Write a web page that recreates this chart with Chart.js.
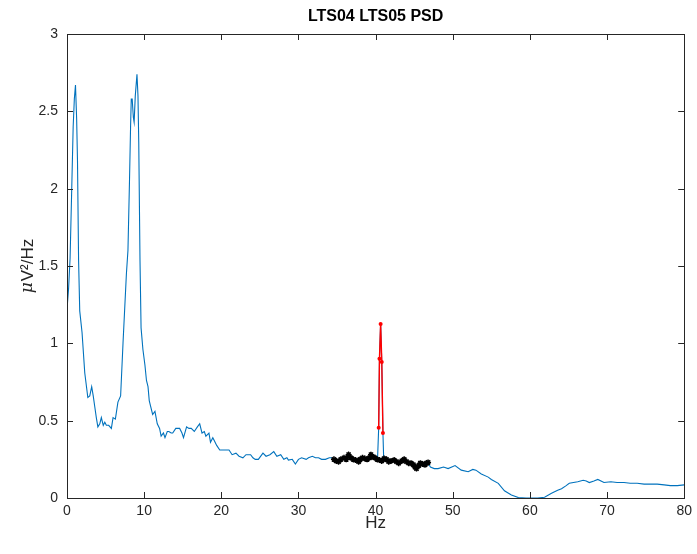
<!DOCTYPE html>
<html>
<head>
<meta charset="utf-8">
<title>LTS04 LTS05 PSD</title>
<script src="https://cdn.jsdelivr.net/npm/chart.js@4.4.1/dist/chart.umd.min.js"></script>
<style>
  html, body { margin: 0; padding: 0; background: #fff; }
  #wrap { width: 697px; height: 554px; }
</style>
</head>
<body>
<div id="wrap"><canvas id="psd" width="697" height="554"></canvas></div>
<script>
// PSD curve (blue)
var freqs = [0, 0.2, 0.4, 0.6, 0.8, 0.95, 1.1, 1.25, 1.36, 1.5, 1.65, 1.95, 2.3, 2.7, 2.95, 3.2, 3.4, 3.6, 3.8, 4.0,
  4.25, 4.45, 4.7, 4.9, 5.1, 5.4, 5.75, 5.97, 6.27, 6.6, 6.95, 7.26, 7.7, 7.9, 8.1, 8.24, 8.33, 8.45, 8.6, 8.7,
  8.85, 9.07, 9.2, 9.3, 9.46, 9.6, 9.84, 10.1, 10.3, 10.5, 10.66, 10.8, 11.1, 11.4, 11.7, 12.0, 12.2, 12.5, 12.7, 13.0,
  13.2, 13.5, 13.7, 14.1, 14.6, 14.9, 15.1, 15.5, 15.8, 16.1, 16.5, 16.9, 17.2, 17.5, 17.8, 18.0, 18.4, 18.6, 18.9, 19.1,
  19.4, 19.8, 20.3, 21.0, 21.4, 21.9, 22.3, 22.8, 23.2, 23.8, 24.1, 24.4, 24.8, 25.4, 25.8, 26.3, 26.8, 27.2, 27.7, 28.1,
  28.5, 28.7, 29.2, 29.6, 30.0, 30.4, 31.0, 31.3, 31.8, 32.2, 32.6, 33.0, 33.5, 34.0, 34.3, 34.6, 35.2, 35.9, 36.5, 37.1,
  37.8, 38.3, 38.9, 39.4, 39.9, 40.25, 40.4, 40.5, 40.65, 40.8, 40.95, 41.05, 41.4, 41.7, 42.4, 43.0, 43.7, 44.3, 44.9, 45.3,
  45.8, 46.4, 46.8, 47.1, 47.6, 48.1, 48.8, 49.4, 50.3, 51.1, 52.0, 52.6, 53.0, 53.7, 54.6, 55.0, 55.9, 56.7, 57.6, 58.5,
  59.5, 60.2, 61.0, 61.9, 62.8, 63.6, 64.1, 64.7, 65.1, 66.2, 66.9, 67.3, 67.7, 68.3, 68.8, 69.6, 70.5, 71.3, 72.2, 73.0,
  73.9, 74.8, 75.6, 76.5, 77.4, 78.2, 79.1, 80];
var psd = [1.22, 1.35, 1.55, 1.97, 2.4, 2.58, 2.67, 2.45, 2.18, 1.54, 1.21, 1.07, 0.81, 0.65, 0.66, 0.72, 0.66, 0.59, 0.52, 0.46,
  0.48, 0.52, 0.47, 0.49, 0.47, 0.47, 0.45, 0.52, 0.51, 0.62, 0.66, 1.0, 1.45, 1.6, 2.05, 2.4, 2.58, 2.58, 2.46, 2.43,
  2.6, 2.74, 2.6, 2.3, 1.54, 1.1, 0.96, 0.86, 0.76, 0.72, 0.63, 0.6, 0.54, 0.56, 0.48, 0.45, 0.40, 0.42, 0.39, 0.43,
  0.43, 0.42, 0.42, 0.45, 0.45, 0.42, 0.39, 0.46, 0.45, 0.45, 0.43, 0.46, 0.48, 0.42, 0.43, 0.40, 0.42, 0.36, 0.39, 0.37,
  0.34, 0.31, 0.31, 0.31, 0.28, 0.29, 0.27, 0.26, 0.28, 0.28, 0.26, 0.25, 0.25, 0.29, 0.27, 0.28, 0.30, 0.27, 0.28, 0.25,
  0.26, 0.245, 0.25, 0.22, 0.25, 0.26, 0.25, 0.26, 0.27, 0.26, 0.26, 0.25, 0.25, 0.26, 0.26, 0.25, 0.235, 0.26, 0.28, 0.25,
  0.235, 0.26, 0.25, 0.28, 0.26, 0.25, 0.455, 0.90, 1.125, 0.88, 0.42, 0.25, 0.25, 0.235, 0.245, 0.225, 0.25, 0.225, 0.215, 0.19,
  0.225, 0.215, 0.23, 0.20, 0.19, 0.19, 0.20, 0.19, 0.21, 0.18, 0.17, 0.185, 0.18, 0.155, 0.135, 0.12, 0.095, 0.047, 0.02, 0.003,
  0.0, 0.0, 0.0, 0.005, 0.03, 0.05, 0.06, 0.08, 0.095, 0.105, 0.115, 0.11, 0.10, 0.11, 0.12, 0.10, 0.105, 0.10, 0.10, 0.095,
  0.095, 0.09, 0.09, 0.09, 0.085, 0.08, 0.08, 0.085];

// baseline band (black)
var bandFreqs = [34.6, 34.9, 35.2, 35.5, 35.9, 36.2, 36.5, 36.8, 37.1, 37.4, 37.8, 38.0, 38.3, 38.6, 38.9, 39.2, 39.4, 39.7,
  39.9, 40.2, 40.5, 40.8, 41.1, 41.4, 41.7, 42.0, 42.4, 42.7, 43.0, 43.4, 43.7, 44.0, 44.3, 44.6, 44.9, 45.1, 45.3, 45.6,
  45.8, 46.1, 46.4, 46.6, 46.8];
var bandPsd = [0.25, 0.24, 0.235, 0.25, 0.26, 0.25, 0.28, 0.26, 0.25, 0.245, 0.235, 0.25, 0.26, 0.255, 0.25, 0.26, 0.28, 0.265,
  0.26, 0.25, 0.245, 0.24, 0.255, 0.25, 0.235, 0.24, 0.245, 0.235, 0.225, 0.24, 0.25, 0.235, 0.225, 0.225, 0.215, 0.2, 0.19, 0.21,
  0.225, 0.22, 0.215, 0.225, 0.23];

// 40 Hz peak (red)
var peakFreqs = [40.4, 40.5, 40.65, 40.8, 40.95];
var peakPsd = [0.455, 0.90, 1.125, 0.88, 0.42];

var xTicks = [0, 10, 20, 30, 40, 50, 60, 70, 80];
var yTicks = [0, 0.5, 1, 1.5, 2, 2.5, 3];

var AXIS_COLOR = '#262626';
var FONT = '"Liberation Sans", Arial, Helvetica, sans-serif';

function toPoints(xs, ys) {
  return xs.map(function (x, i) { return { x: x, y: ys[i] }; });
}

// MATLAB-style box with inward ticks on all four sides
var boxTicks = {
  id: 'boxTicks',
  afterDraw: function (chart) {
    var ctx = chart.ctx;
    var a = chart.chartArea;
    var xs = chart.scales.x, ys = chart.scales.y;
    var len = 6;
    ctx.save();
    ctx.strokeStyle = AXIS_COLOR;
    ctx.lineWidth = 1;
    ctx.beginPath();
    xTicks.forEach(function (v) {
      var px = Math.round(xs.getPixelForValue(v)) + 0.5;
      ctx.moveTo(px, a.bottom); ctx.lineTo(px, a.bottom - len);
      ctx.moveTo(px, a.top); ctx.lineTo(px, a.top + len);
    });
    yTicks.forEach(function (v) {
      var py = Math.round(ys.getPixelForValue(v)) + 0.5;
      ctx.moveTo(a.left, py); ctx.lineTo(a.left + len, py);
      ctx.moveTo(a.right, py); ctx.lineTo(a.right - len, py);
    });
    ctx.stroke();
    ctx.strokeRect(Math.round(a.left) + 0.5, Math.round(a.top) + 0.5,
      Math.round(a.right - a.left), Math.round(a.bottom - a.top));
    ctx.restore();
  }
};

// title centred over the axes, y label with an italic mu
var labels = {
  id: 'labels',
  afterDraw: function (chart) {
    var ctx = chart.ctx;
    var a = chart.chartArea;
    ctx.save();
    ctx.fillStyle = '#000';
    ctx.font = 'bold 16px ' + FONT;
    ctx.textAlign = 'center';
    ctx.textBaseline = 'middle';
    ctx.fillText('LTS04 LTS05 PSD', (a.left + a.right) / 2, 17);

    ctx.translate(28, (a.top + a.bottom) / 2);
    ctx.rotate(-Math.PI / 2);
    ctx.fillStyle = AXIS_COLOR;
    ctx.textAlign = 'left';
    var mu = 'μ', rest = 'V²/Hz';
    ctx.font = 'italic 17px "DejaVu Serif", serif';
    var w1 = ctx.measureText(mu).width;
    ctx.font = '17px ' + FONT;
    var w2 = ctx.measureText(rest).width;
    var x0 = -(w1 + w2 + 1) / 2;
    ctx.font = 'italic 17px "DejaVu Serif", serif';
    ctx.fillText(mu, x0, 0);
    ctx.font = '17px ' + FONT;
    ctx.fillText(rest, x0 + w1 + 1, 0);
    ctx.restore();
  }
};

new Chart(document.getElementById('psd'), {
  type: 'line',
  data: {
    datasets: [
      {
        label: 'peak',
        data: toPoints(peakFreqs, peakPsd),
        borderColor: '#ff0000',
        backgroundColor: '#ff0000',
        borderWidth: 1.4,
        pointRadius: 2,
        pointBorderWidth: 0,
        order: 0
      },
      {
        label: 'band',
        data: toPoints(bandFreqs, bandPsd),
        borderColor: '#000000',
        backgroundColor: '#000000',
        borderWidth: 3.5,
        pointStyle: 'star',
        pointRadius: 3,
        pointBorderWidth: 1.5,
        pointBorderColor: '#000000',
        order: 1
      },
      {
        label: 'PSD',
        data: toPoints(freqs, psd),
        borderColor: '#0072bd',
        borderWidth: 1.1,
        pointRadius: 0,
        tension: 0,
        order: 2
      }
    ]
  },
  options: {
    responsive: false,
    animation: false,
    devicePixelRatio: 1,
    layout: { padding: { left: 0, right: 11, top: 34, bottom: 0 } },
    plugins: {
      legend: { display: false },
      tooltip: { enabled: false },
      title: { display: false }
    },
    scales: {
      x: {
        type: 'linear',
        min: 0, max: 80,
        afterBuildTicks: function (s) { s.ticks = xTicks.map(function (v) { return { value: v }; }); },
        afterFit: function (s) { s.height = 56; },
        grid: { display: false, drawTicks: false },
        border: { display: false },
        ticks: {
          color: AXIS_COLOR, padding: 5, maxRotation: 0,
          font: { family: FONT, size: 14 },
          callback: function (v) { return String(v); }
        },
        title: {
          display: true, text: 'Hz', color: AXIS_COLOR,
          font: { family: FONT, size: 17 },
          padding: { top: 0, bottom: 20 }
        }
      },
      y: {
        type: 'linear',
        min: 0, max: 3,
        afterBuildTicks: function (s) { s.ticks = yTicks.map(function (v) { return { value: v }; }); },
        afterFit: function (s) { s.width = 67; },
        grid: { display: false, drawTicks: false },
        border: { display: false },
        ticks: {
          color: AXIS_COLOR, padding: 9,
          font: { family: FONT, size: 14 },
          callback: function (v) { return String(v); }
        }
      }
    }
  },
  plugins: [boxTicks, labels]
});
</script>
</body>
</html>
